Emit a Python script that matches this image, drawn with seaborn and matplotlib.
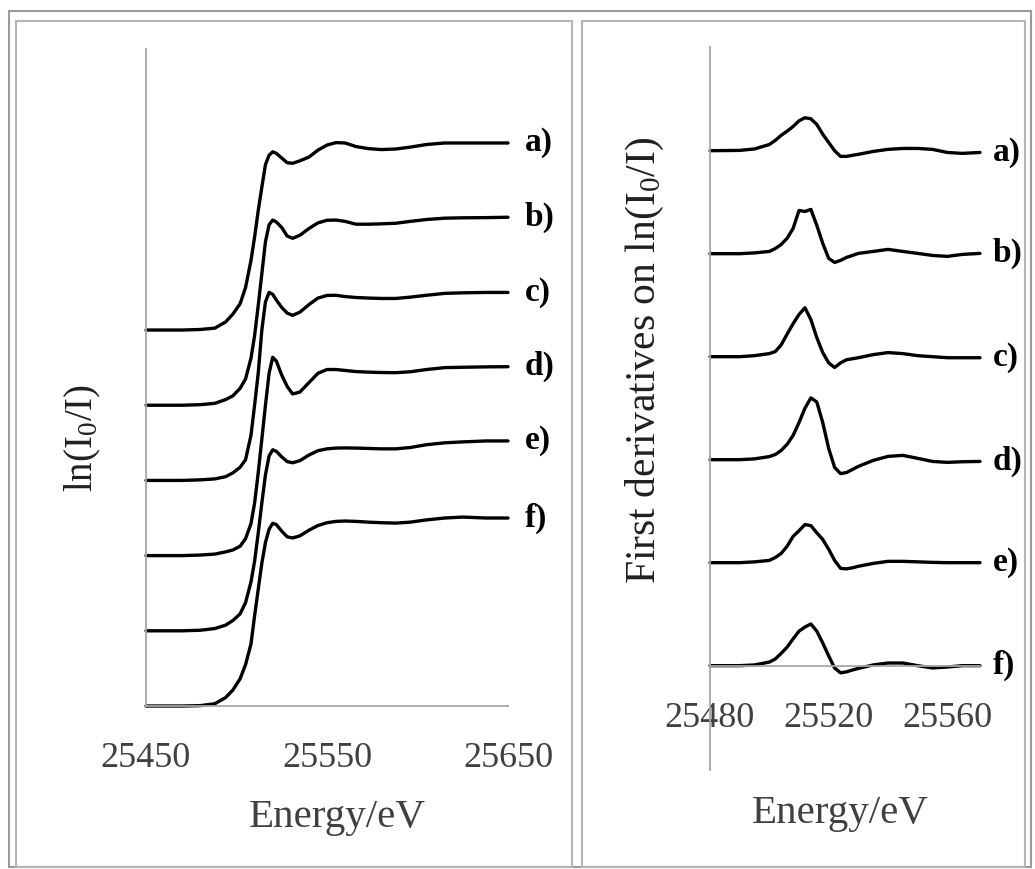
import numpy as np
import pandas as pd
import seaborn as sns
import matplotlib
matplotlib.use("Agg")
import matplotlib.pyplot as plt
from matplotlib.patches import Rectangle

# --- data ---------------------------------------------------------------
samples = ["a)", "b)", "c)", "d)", "e)", "f)"]

# XANES spectra, normalised edge step (left panel)
energy_xanes = [25450, 25470, 25480, 25488, 25494, 25498, 25502, 25505, 25508, 25510,
                25512, 25514, 25516, 25518, 25520, 25522, 25525, 25528, 25531, 25535,
                25540, 25545, 25550, 25555, 25560, 25566, 25573, 25580, 25588, 25596,
                25605, 25615, 25625, 25638, 25650]
xanes_a = [0, 0, 0.003, 0.01, 0.043, 0.085, 0.14, 0.226, 0.37, 0.495,
           0.635, 0.76, 0.88, 0.93, 0.948, 0.94, 0.915, 0.89, 0.887, 0.9,
           0.92, 0.957, 0.984, 0.997, 0.995, 0.976, 0.965, 0.96, 0.963, 0.973,
           0.987, 0.995, 0.995, 0.995, 0.995]
xanes_b = [0, 0, 0.003, 0.01, 0.03, 0.05, 0.09, 0.14, 0.25, 0.37,
           0.53, 0.7, 0.87, 0.96, 0.985, 0.975, 0.945, 0.9, 0.888, 0.904,
           0.94, 0.97, 0.984, 0.985, 0.978, 0.963, 0.963, 0.965, 0.968, 0.978,
           0.988, 0.995, 0.997, 0.998, 1.0]
xanes_c = [0, 0, 0.003, 0.008, 0.02, 0.04, 0.07, 0.11, 0.24, 0.4,
           0.57, 0.8, 0.95, 1.0, 0.99, 0.96, 0.92, 0.89, 0.878, 0.895,
           0.935, 0.97, 0.984, 0.985, 0.978, 0.973, 0.97, 0.968, 0.968, 0.975,
           0.985, 0.995, 0.998, 1.0, 1.0]
xanes_d = [0, 0, 0.003, 0.008, 0.02, 0.03, 0.05, 0.09, 0.17, 0.28,
           0.44, 0.62, 0.8, 0.97, 1.055, 1.035, 0.96, 0.9, 0.86, 0.87,
           0.92, 0.97, 0.99, 0.99, 0.985, 0.979, 0.976, 0.974, 0.973, 0.978,
           0.99, 1.0, 1.002, 1.004, 1.005]
xanes_e = [0, 0, 0.003, 0.012, 0.03, 0.055, 0.09, 0.15, 0.26, 0.37,
           0.52, 0.68, 0.83, 0.93, 0.963, 0.955, 0.925, 0.9, 0.894, 0.905,
           0.935, 0.958, 0.968, 0.972, 0.973, 0.972, 0.97, 0.968, 0.968, 0.975,
           0.99, 1.0, 1.005, 1.01, 1.01]
xanes_f = [0, 0, 0.002, 0.012, 0.045, 0.085, 0.145, 0.22, 0.33, 0.48,
           0.62, 0.76, 0.87, 0.94, 0.972, 0.965, 0.93, 0.9, 0.894, 0.905,
           0.935, 0.96, 0.975, 0.982, 0.984, 0.982, 0.978, 0.975, 0.973, 0.978,
           0.99, 1.0, 1.005, 1.0, 1.0]

# first derivatives (right panel)
energy_deriv = [25480, 25490, 25495, 25500, 25502, 25504, 25506, 25508, 25510, 25512,
                25514, 25516, 25518, 25520, 25522, 25524, 25526, 25528, 25530, 25535,
                25540, 25545, 25550, 25555, 25560, 25565, 25571]
deriv_a = [0, 0.003, 0.017, 0.06, 0.1, 0.15, 0.19, 0.235, 0.29, 0.32,
           0.31, 0.255, 0.16, 0.08, 0.0, -0.055, -0.055, -0.045, -0.035, -0.007,
           0.013, 0.022, 0.022, 0.013, -0.017, -0.026, -0.017]
deriv_b = [0, 0, 0.008, 0.022, 0.05, 0.09, 0.15, 0.245, 0.42, 0.41,
           0.43, 0.275, 0.1, -0.045, -0.085, -0.065, -0.036, -0.017, 0.003, 0.022,
           0.042, 0.022, 0.003, -0.017, -0.026, -0.007, 0.003]
deriv_c = [0, 0, 0.01, 0.03, 0.05, 0.115, 0.22, 0.32, 0.41, 0.475,
           0.36, 0.185, 0.04, -0.06, -0.105, -0.06, -0.03, -0.02, -0.01, 0.02,
           0.04, 0.03, 0.01, 0, -0.01, -0.01, -0.01]
deriv_d = [0, 0, 0.008, 0.03, 0.05, 0.09, 0.15, 0.235, 0.36, 0.5,
           0.6, 0.56, 0.36, 0.11, -0.075, -0.135, -0.125, -0.095, -0.065, -0.007,
           0.032, 0.042, 0.013, -0.017, -0.026, -0.02, -0.017]
deriv_e = [0, 0, 0.008, 0.022, 0.05, 0.09, 0.16, 0.255, 0.31, 0.37,
           0.36, 0.29, 0.225, 0.13, 0.022, -0.055, -0.06, -0.05, -0.035, -0.007,
           0.013, 0.013, 0.008, 0.003, 0, 0, 0]
deriv_f = [0, 0, 0.007, 0.035, 0.065, 0.12, 0.18, 0.26, 0.335, 0.375,
           0.405, 0.335, 0.22, 0.095, -0.022, -0.07, -0.06, -0.042, -0.027, 0.007,
           0.026, 0.026, 0, -0.022, -0.013, 0, 0]

xanes = [xanes_a, xanes_b, xanes_c, xanes_d, xanes_e, xanes_f]
derivs = [deriv_a, deriv_b, deriv_c, deriv_d, deriv_e, deriv_f]

# vertical stacking step between spectra
XANES_SHIFT = 0.4
DERIV_SHIFT = 1.0


def stack(energy, series, shift):
    frames = []
    n = len(series)
    for i, (lab, vals) in enumerate(zip(samples, series)):
        frames.append(pd.DataFrame({"energy": energy,
                                    "y": np.array(vals) + (n - 1 - i) * shift,
                                    "sample": lab}))
    return pd.concat(frames, ignore_index=True)


df_x = stack(energy_xanes, xanes, XANES_SHIFT)
df_d = stack(energy_deriv, derivs, DERIV_SHIFT)

# --- style -----------------------------------------------------------------
sns.set_style("white")
plt.rcParams["font.family"] = ["Liberation Serif", "DejaVu Serif"]
plt.rcParams["mathtext.fontset"] = "custom"
plt.rcParams["mathtext.rm"] = "Liberation Serif"
plt.rcParams["mathtext.default"] = "regular"

axis_grey = "#a6a6a6"
text_grey = "#404040"

W, H = 1035, 869
fig = plt.figure(figsize=(W / 100, H / 100), dpi=100)


def px_rect(x0, y0, x1, y1):
    return [x0 / W, 1 - y1 / H, (x1 - x0) / W, (y1 - y0) / H]


ax1 = fig.add_axes(px_rect(146, 49, 508, 706))
ax2 = fig.add_axes(px_rect(710, 47, 980, 770))

sns.lineplot(data=df_x, x="energy", y="y", units="sample", estimator=None,
             color="black", lw=2.4, sort=False, ax=ax1)
sns.lineplot(data=df_d, x="energy", y="y", units="sample", estimator=None,
             color="black", lw=2.4, sort=False, ax=ax2)

for ax in (ax1, ax2):
    for line in ax.lines:
        line.set_clip_on(False)
    for s in ("top", "right"):
        ax.spines[s].set_visible(False)
    for s in ("left", "bottom"):
        ax.spines[s].set_color(axis_grey)
        ax.spines[s].set_linewidth(1.3)
    ax.set_yticks([])
    ax.set_xlabel("")
    ax.set_ylabel("")
    ax.tick_params(axis="x", direction="out", length=8, width=1.3, color=axis_grey,
                   pad=18, labelsize=26, labelcolor=text_grey)

ax1.set_xlim(25450, 25650)
ax1.set_ylim(0, 3.495)
ax1.set_xticks([25450, 25550, 25650])

ax2.set_xlim(25480, 25571)
ax2.set_ylim(-1.013, 6.007)
ax2.spines["bottom"].set_position(("data", 0))
ax2.set_xticks([25480, 25520, 25560])

# sample labels at the end of every trace
for ax, df, dx in ((ax1, df_x, 12), (ax2, df_d, 9)):
    for lab in samples:
        last = df[df["sample"] == lab].iloc[-1]
        ax.annotate(lab, xy=(last["energy"], last["y"]), xytext=(dx, 0),
                    textcoords="offset points", ha="left", va="center",
                    fontsize=24, fontweight="bold", color="black",
                    annotation_clip=False)

# axis titles
fig.text(337 / W, 1 - 818 / H, "Energy/eV", ha="center", va="center",
         fontsize=29.5, color=text_grey)
fig.text(840 / W, 1 - 813 / H, "Energy/eV", ha="center", va="center",
         fontsize=29.5, color=text_grey)
fig.text(83 / W, 1 - 438 / H, "ln(I$_0$/I)", rotation=90, ha="center",
         va="center", fontsize=28, color="#202020")
fig.text(645 / W, 1 - 360 / H, "First derivatives on ln(I$_0$/I)", rotation=90,
         ha="center", va="center", fontsize=30, color="#202020")

# chart frames
frames = [((9, 11, 1031, 867), "#9a9a9a"),
          ((16, 21, 572, 867), "#b5b5b5"),
          ((582, 21, 1025, 867), "#b5b5b5")]
for (x0, y0, x1, y1), c in frames:
    r = px_rect(x0, y0, x1, y1)
    fig.add_artist(Rectangle((r[0], r[1]), r[2], r[3], transform=fig.transFigure,
                             fill=False, edgecolor=c, lw=1.5))

fig.savefig("out.png", dpi=100)
